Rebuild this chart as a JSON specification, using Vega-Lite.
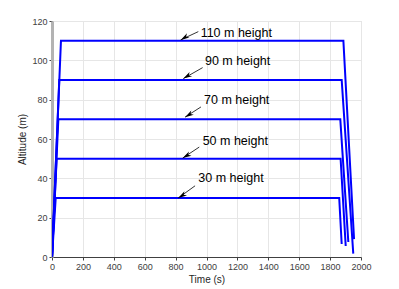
{
  "$schema": "https://vega.github.io/schema/vega-lite/v6.json",
  "width": 309,
  "height": 236,
  "autosize": {"type": "none"},
  "padding": {"left": 52, "top": 21, "right": 38, "bottom": 32},
  "background": "white",
  "config": {
    "font": "Liberation Sans",
    "view": {"stroke": "#d6d6d6", "strokeWidth": 1},
    "axis": {
      "grid": true,
      "gridColor": "#e6e6e6",
      "gridWidth": 1,
      "labelFont": "Liberation Sans",
      "labelFontSize": 9,
      "labelColor": "#404040",
      "labelOverlap": false,
      "labelFlush": false,
      "format": "d",
      "titleFont": "Liberation Sans",
      "titleFontSize": 10,
      "titleFontWeight": "normal",
      "titleColor": "#262626",
      "tickColor": "#404040",
      "tickSize": 3
    },
    "axisX": {"values": [0,200,400,600,800,1000,1200,1400,1600,1800,2000], "titlePadding": 3, "labelPadding": 2, "domainColor": "#404040"},
    "axisY": {"values": [0,20,40,60,80,100,120], "titlePadding": 4, "labelPadding": 2, "domainColor": "#b3b3b3", "domainWidth": 3}
  },
  "datasets": {
    "flights": [
      {"series": "30", "t": 0, "alt": 0},
      {"series": "30", "t": 24, "alt": 30},
      {"series": "30", "t": 1859, "alt": 30},
      {"series": "30", "t": 1875, "alt": 6.6},
      {"series": "50", "t": 0, "alt": 0},
      {"series": "50", "t": 30, "alt": 50},
      {"series": "50", "t": 1868, "alt": 50},
      {"series": "50", "t": 1901, "alt": 5.6},
      {"series": "70", "t": 0, "alt": 0},
      {"series": "70", "t": 41, "alt": 70},
      {"series": "70", "t": 1866, "alt": 70},
      {"series": "70", "t": 1918, "alt": 7.6},
      {"series": "90", "t": 0, "alt": 0},
      {"series": "90", "t": 47, "alt": 90},
      {"series": "90", "t": 1875, "alt": 90},
      {"series": "90", "t": 1950, "alt": 1.7},
      {"series": "110", "t": 0, "alt": 0},
      {"series": "110", "t": 58, "alt": 110},
      {"series": "110", "t": 1886, "alt": 110},
      {"series": "110", "t": 1955, "alt": 9.1}
    ],
    "notes": [
      {"label": "110 m height", "tx": 962, "ty": 113.9, "ax": 947, "ay": 114.6, "bx": 833, "by": 110.4},
      {"label": "90 m height", "tx": 990, "ty": 99.7, "ax": 975, "ay": 96.3, "bx": 850, "by": 90.7},
      {"label": "70 m height", "tx": 984, "ty": 79.9, "ax": 964, "ay": 76.3, "bx": 861, "by": 71.1},
      {"label": "50 m height", "tx": 975, "ty": 59.2, "ax": 953, "ay": 55.9, "bx": 846, "by": 50.3},
      {"label": "30 m height", "tx": 947, "ty": 40.1, "ax": 926, "ay": 36.2, "bx": 817, "by": 30}
    ]
  },
  "layer": [
    {
      "data": {"name": "flights"},
      "mark": {"type": "line", "color": "#0000ff", "strokeWidth": 2, "clip": true},
      "encoding": {
        "x": {"field": "t", "type": "quantitative", "title": "Time (s)", "scale": {"domain": [0, 2000], "nice": false}},
        "y": {"field": "alt", "type": "quantitative", "title": "Altitude (m)", "scale": {"domain": [0, 120], "nice": false}},
        "detail": {"field": "series"},
        "order": {"field": "t", "type": "quantitative"}
      }
    },
    {
      "data": {"name": "notes"},
      "mark": {"type": "rule", "color": "black", "strokeWidth": 0.8},
      "encoding": {
        "x": {"field": "ax", "type": "quantitative", "title": "Time (s)"},
        "y": {"field": "ay", "type": "quantitative", "title": "Altitude (m)"},
        "x2": {"field": "bx"},
        "y2": {"field": "by"}
      }
    },
    {
      "data": {"name": "notes"},
      "mark": {"type": "point", "shape": "M0,0L0.45,1.6L0,1.15L-0.45,1.6Z", "filled": true, "color": "black", "opacity": 1, "size": 120, "angle": 239, "strokeWidth": 0},
      "encoding": {
        "x": {"field": "bx", "type": "quantitative", "title": "Time (s)"},
        "y": {"field": "by", "type": "quantitative", "title": "Altitude (m)"}
      }
    },
    {
      "data": {"name": "notes"},
      "mark": {"type": "text", "align": "left", "baseline": "middle", "fontSize": 12.5, "color": "black", "font": "Liberation Sans"},
      "encoding": {
        "x": {"field": "tx", "type": "quantitative", "title": "Time (s)"},
        "y": {"field": "ty", "type": "quantitative", "title": "Altitude (m)"},
        "text": {"field": "label"}
      }
    }
  ]
}
